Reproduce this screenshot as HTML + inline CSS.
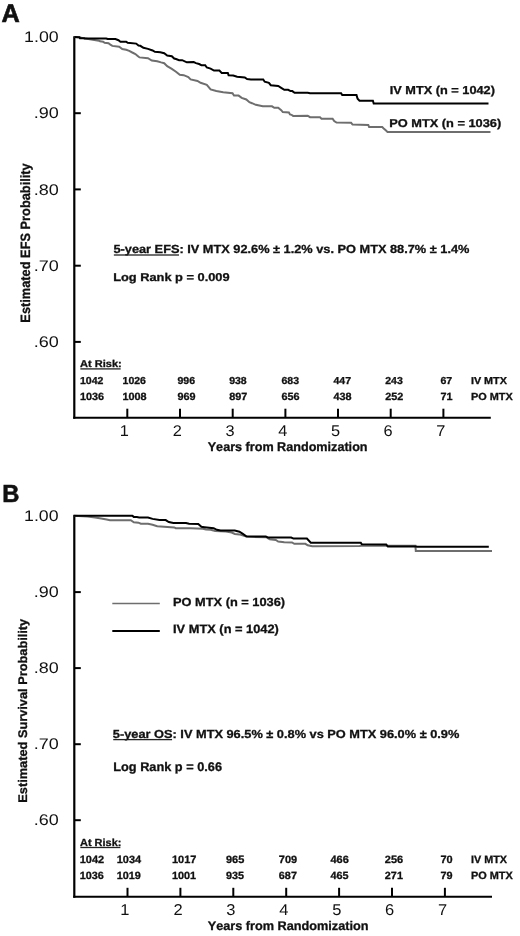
<!DOCTYPE html>
<html><head><meta charset="utf-8"><style>
html,body{margin:0;padding:0;background:#fff;}
svg{display:block;filter:grayscale(100%) blur(0.3px);}
text{font-family:"Liberation Sans",sans-serif;fill:#111;font-kerning:none;text-rendering:geometricPrecision;}
</style></head><body>
<svg width="520" height="936" viewBox="0 0 520 936">
<rect width="520" height="936" fill="#fff"/>
<line x1="74.3" y1="36.2" x2="74.3" y2="418.7" stroke="#000" stroke-width="2.2"/>
<line x1="73.2" y1="417.7" x2="490.8" y2="417.7" stroke="#000" stroke-width="2"/>
<line x1="75" y1="113.2" x2="80.8" y2="113.2" stroke="#000" stroke-width="2"/>
<line x1="75" y1="189.4" x2="80.8" y2="189.4" stroke="#000" stroke-width="2"/>
<line x1="75" y1="265.7" x2="80.8" y2="265.7" stroke="#000" stroke-width="2"/>
<line x1="75" y1="341.9" x2="80.8" y2="341.9" stroke="#000" stroke-width="2"/>
<line x1="127.3" y1="408.7" x2="127.3" y2="417.7" stroke="#000" stroke-width="2"/>
<line x1="180.0" y1="408.7" x2="180.0" y2="417.7" stroke="#000" stroke-width="2"/>
<line x1="232.7" y1="408.7" x2="232.7" y2="417.7" stroke="#000" stroke-width="2"/>
<line x1="285.4" y1="408.7" x2="285.4" y2="417.7" stroke="#000" stroke-width="2"/>
<line x1="338.0" y1="408.7" x2="338.0" y2="417.7" stroke="#000" stroke-width="2"/>
<line x1="390.7" y1="408.7" x2="390.7" y2="417.7" stroke="#000" stroke-width="2"/>
<line x1="443.4" y1="408.7" x2="443.4" y2="417.7" stroke="#000" stroke-width="2"/>
<line x1="74.3" y1="515.2" x2="74.3" y2="897.8" stroke="#000" stroke-width="2.2"/>
<line x1="73.2" y1="896.8" x2="492.0" y2="896.8" stroke="#000" stroke-width="2"/>
<line x1="75" y1="592.1" x2="80.8" y2="592.1" stroke="#000" stroke-width="2"/>
<line x1="75" y1="668.1" x2="80.8" y2="668.1" stroke="#000" stroke-width="2"/>
<line x1="75" y1="744.2" x2="80.8" y2="744.2" stroke="#000" stroke-width="2"/>
<line x1="75" y1="820.2" x2="80.8" y2="820.2" stroke="#000" stroke-width="2"/>
<line x1="127.5" y1="887.8" x2="127.5" y2="896.8" stroke="#000" stroke-width="2"/>
<line x1="180.4" y1="887.8" x2="180.4" y2="896.8" stroke="#000" stroke-width="2"/>
<line x1="233.3" y1="887.8" x2="233.3" y2="896.8" stroke="#000" stroke-width="2"/>
<line x1="286.2" y1="887.8" x2="286.2" y2="896.8" stroke="#000" stroke-width="2"/>
<line x1="339.1" y1="887.8" x2="339.1" y2="896.8" stroke="#000" stroke-width="2"/>
<line x1="392.0" y1="887.8" x2="392.0" y2="896.8" stroke="#000" stroke-width="2"/>
<line x1="444.9" y1="887.8" x2="444.9" y2="896.8" stroke="#000" stroke-width="2"/>
<path d="M74.3,37.0 L79.7,37.6 L88.3,39.0 L98.9,40.7 L100.0,41.3 L103.1,41.7 L104.6,42.8 L108.5,43.2 L110.0,44.4 L112.3,45.9 L119.2,46.7 L122.3,49.0 L126.2,49.8 L129.2,50.9 L132.3,52.5 L135.4,54.0 L137.7,55.9 L139.5,57.4 L148.0,58.2 L151.8,60.5 L157.2,61.2 L161.1,62.4 L164.2,63.2 L167.2,66.2 L171.8,68.9 L176.0,71.7 L179.8,74.8 L183.7,75.2 L188.3,77.1 L190.6,79.4 L197.5,80.9 L200.6,82.8 L206.8,84.8 L210.6,89.4 L216.3,91.0 L223.2,92.2 L232.5,93.3 L234.0,95.6 L238.6,95.6 L241.7,97.9 L246.3,99.5 L249.4,102.2 L252.0,103.2 L255.8,104.8 L262.8,106.3 L272.0,106.3 L274.3,107.8 L278.2,107.8 L281.2,110.2 L282.8,112.1 L288.9,112.5 L290.0,114.4 L291.5,114.8 L293.1,115.9 L307.7,115.7 L310.0,117.2 L320.0,117.2 L321.5,118.7 L332.6,118.7 L334.2,121.1 L336.5,122.6 L351.1,122.8 L352.6,124.6 L368.3,124.9 L369.1,127.0 L382.2,127.0 L383.7,128.5 L386.0,130.5 L387.5,131.9 L490.5,131.9" fill="none" stroke="#6e6e6e" stroke-width="2"/>
<path d="M74.3,37.0 L79.5,37.2 L80.0,38.2 L84.3,38.2 L84.6,38.5 L106.2,38.5 L107.7,39.0 L115.4,39.0 L118.5,40.2 L120.4,41.7 L126.2,41.7 L127.7,42.8 L136.2,43.6 L138.5,45.5 L140.3,45.8 L143.4,47.8 L148.0,48.9 L152.6,50.5 L154.9,51.8 L160.3,52.2 L164.2,53.2 L167.2,55.5 L171.8,56.2 L174.2,58.5 L176.0,59.0 L179.1,60.2 L182.2,60.2 L186.8,62.3 L193.7,62.1 L196.0,63.1 L199.1,64.0 L201.4,65.2 L205.2,65.2 L206.8,67.5 L210.6,68.6 L214.0,70.5 L219.4,70.6 L221.7,72.9 L227.8,72.9 L228.6,75.2 L233.2,75.6 L237.1,76.8 L244.8,77.5 L247.1,79.1 L250.9,79.5 L263.2,79.5 L264.7,81.7 L268.9,82.8 L270.8,85.2 L278.2,85.9 L281.2,87.8 L284.3,89.8 L288.2,89.8 L290.5,91.1 L292.3,91.1 L294.6,92.8 L307.7,92.8 L310.0,93.3 L341.1,93.3 L342.2,95.1 L356.5,95.1 L357.6,98.8 L359.5,100.7 L372.9,100.8 L373.7,103.5 L488.5,103.5" fill="none" stroke="#000" stroke-width="2"/>
<path d="M73.5,515.7 L87.4,516.5 L95.1,517.4 L101.2,518.4 L106.6,519.5 L110.0,520.2 L130.8,520.2 L133.8,522.3 L138.5,522.7 L140.8,523.7 L148.0,523.8 L152.6,524.7 L157.2,526.2 L174.2,527.4 L175.7,528.2 L190.6,528.3 L202.9,528.7 L206.0,529.5 L210.6,529.7 L215.2,531.0 L226.0,531.5 L231.7,532.5 L234.8,534.0 L239.4,534.4 L244.0,535.9 L247.1,536.7 L266.6,537.3 L269.7,539.2 L275.8,540.0 L278.2,541.5 L284.3,542.3 L292.0,542.5 L294.3,543.8 L305.4,543.8 L307.7,545.3 L312.3,546.2 L359.6,546.1 L361.0,545.8 L415.4,545.8 L415.8,551.1 L492.0,551.1" fill="none" stroke="#6e6e6e" stroke-width="2"/>
<path d="M73.5,515.7 L132.3,515.7 L133.8,516.9 L136.9,517.1 L139.2,517.5 L148.0,517.5 L152.6,518.9 L159.5,520.1 L165.7,520.1 L168.8,522.0 L173.4,522.9 L186.0,523.1 L189.1,523.7 L198.3,524.1 L201.4,526.8 L204.5,527.2 L213.7,528.2 L216.8,529.8 L220.6,530.5 L234.8,530.6 L239.4,531.7 L242.5,533.6 L246.3,536.3 L265.8,536.6 L268.2,537.6 L291.2,537.6 L293.5,538.6 L306.9,538.6 L310.8,542.7 L360.8,542.8 L361.9,544.3 L386.2,544.5 L387.9,546.6 L415.8,546.5 L417.3,546.8 L488.8,546.8" fill="none" stroke="#000" stroke-width="2"/>
<line x1="112.3" y1="603.5" x2="159.8" y2="603.5" stroke="#6e6e6e" stroke-width="1.6"/>
<line x1="112.3" y1="631" x2="159.8" y2="631" stroke="#000" stroke-width="2"/>
<text transform="translate(1.44,21.60) scale(1.0005,1)" font-size="25.29" font-weight="700" stroke="#111" stroke-width="0.6">A</text>
<text transform="translate(24.08,42.20) scale(1.1511,1)" font-size="15.43" font-weight="400">1.00</text>
<text transform="translate(33.68,118.40) scale(1.1677,1)" font-size="15.43" font-weight="400">.90</text>
<text transform="translate(33.68,194.60) scale(1.1677,1)" font-size="15.43" font-weight="400">.80</text>
<text transform="translate(33.68,270.90) scale(1.1677,1)" font-size="15.43" font-weight="400">.70</text>
<text transform="translate(33.68,347.10) scale(1.1677,1)" font-size="15.43" font-weight="400">.60</text>
<text transform="translate(119.87,436.40) scale(1.0500,1)" font-size="15.57" font-weight="400">1</text>
<text transform="translate(172.80,436.40) scale(1.0500,1)" font-size="15.57" font-weight="400">2</text>
<text transform="translate(225.57,436.40) scale(1.0500,1)" font-size="15.57" font-weight="400">3</text>
<text transform="translate(278.26,436.40) scale(1.0500,1)" font-size="15.57" font-weight="400">4</text>
<text transform="translate(330.95,436.40) scale(1.0500,1)" font-size="15.57" font-weight="400">5</text>
<text transform="translate(383.56,436.40) scale(1.0500,1)" font-size="15.57" font-weight="400">6</text>
<text transform="translate(436.25,436.40) scale(1.0500,1)" font-size="15.57" font-weight="400">7</text>
<text transform="translate(207.70,451.45) scale(0.9981,1)" font-size="12.65" font-weight="700" stroke="#111" stroke-width="0.3">Years from Randomization</text>
<text transform="translate(80.02,366.75) scale(1.1171,1)" font-size="9.88" font-weight="700" stroke="#111" stroke-width="0.3">At Risk:</text>
<rect x="80.35" y="368.25" width="40.30" height="1.3" fill="#222"/>
<text transform="translate(79.92,383.95) scale(1.0400,1)" font-size="10.14" font-weight="700" stroke="#111" stroke-width="0.3">1042</text>
<text transform="translate(122.52,383.95) scale(1.0400,1)" font-size="10.14" font-weight="700" stroke="#111" stroke-width="0.3">1026</text>
<text transform="translate(177.43,383.95) scale(1.0400,1)" font-size="10.14" font-weight="700" stroke="#111" stroke-width="0.3">996</text>
<text transform="translate(229.13,383.95) scale(1.0400,1)" font-size="10.14" font-weight="700" stroke="#111" stroke-width="0.3">938</text>
<text transform="translate(281.43,383.95) scale(1.0400,1)" font-size="10.14" font-weight="700" stroke="#111" stroke-width="0.3">683</text>
<text transform="translate(333.44,383.95) scale(1.0400,1)" font-size="10.14" font-weight="700" stroke="#111" stroke-width="0.3">447</text>
<text transform="translate(385.23,383.95) scale(1.0400,1)" font-size="10.14" font-weight="700" stroke="#111" stroke-width="0.3">243</text>
<text transform="translate(440.43,383.95) scale(1.0400,1)" font-size="10.14" font-weight="700" stroke="#111" stroke-width="0.3">67</text>
<text transform="translate(79.90,400.05) scale(1.0400,1)" font-size="10.43" font-weight="700" stroke="#111" stroke-width="0.3">1036</text>
<text transform="translate(122.50,400.05) scale(1.0400,1)" font-size="10.43" font-weight="700" stroke="#111" stroke-width="0.3">1008</text>
<text transform="translate(177.42,400.05) scale(1.0400,1)" font-size="10.43" font-weight="700" stroke="#111" stroke-width="0.3">969</text>
<text transform="translate(229.22,400.05) scale(1.0400,1)" font-size="10.43" font-weight="700" stroke="#111" stroke-width="0.3">897</text>
<text transform="translate(281.42,400.05) scale(1.0400,1)" font-size="10.43" font-weight="700" stroke="#111" stroke-width="0.3">656</text>
<text transform="translate(333.43,400.05) scale(1.0400,1)" font-size="10.43" font-weight="700" stroke="#111" stroke-width="0.3">438</text>
<text transform="translate(385.22,400.05) scale(1.0400,1)" font-size="10.43" font-weight="700" stroke="#111" stroke-width="0.3">252</text>
<text transform="translate(440.42,400.05) scale(1.0400,1)" font-size="10.43" font-weight="700" stroke="#111" stroke-width="0.3">71</text>
<text transform="translate(470.89,383.85) scale(1.0799,1)" font-size="10.03" font-weight="700" stroke="#111" stroke-width="0.3">IV MTX</text>
<text transform="translate(470.89,399.85) scale(1.0569,1)" font-size="10.32" font-weight="700" stroke="#111" stroke-width="0.3">PO MTX</text>
<text transform="translate(389.76,94.25) scale(1.1108,1)" font-size="11.48" font-weight="700" stroke="#111" stroke-width="0.3">IV MTX (n = 1042)</text>
<text transform="translate(389.15,127.35) scale(1.1304,1)" font-size="11.34" font-weight="700" stroke="#111" stroke-width="0.3">PO MTX (n = 1036)</text>
<text transform="translate(113.47,253.25) scale(1.0847,1)" font-size="11.77" font-weight="700" stroke="#111" stroke-width="0.3">5-year EFS: IV MTX 92.6% ± 1.2% vs. PO MTX 88.7% ± 1.4%</text>
<rect x="113.85" y="254.35" width="65.13" height="1.3" fill="#222"/>
<text transform="translate(113.15,280.75) scale(1.1315,1)" font-size="11.34" font-weight="700" stroke="#111" stroke-width="0.3">Log Rank p = 0.009</text>
<text transform="translate(30.25,322.65) rotate(-90) scale(0.9473,1)" font-size="13.52" font-weight="700" stroke="#111" stroke-width="0.3">Estimated EFS Probability</text>
<text transform="translate(2.34,501.60) scale(0.9677,1)" font-size="24.56" font-weight="700" stroke="#111" stroke-width="0.6">B</text>
<text transform="translate(24.08,521.20) scale(1.1475,1)" font-size="15.43" font-weight="400">1.00</text>
<text transform="translate(33.69,597.30) scale(1.1626,1)" font-size="15.43" font-weight="400">.90</text>
<text transform="translate(33.69,673.30) scale(1.1626,1)" font-size="15.43" font-weight="400">.80</text>
<text transform="translate(33.69,749.40) scale(1.1626,1)" font-size="15.43" font-weight="400">.70</text>
<text transform="translate(33.69,825.40) scale(1.1626,1)" font-size="15.43" font-weight="400">.60</text>
<text transform="translate(120.23,915.30) scale(1.0500,1)" font-size="15.71" font-weight="400">1</text>
<text transform="translate(173.38,915.30) scale(1.0500,1)" font-size="15.71" font-weight="400">2</text>
<text transform="translate(226.36,915.30) scale(1.0500,1)" font-size="15.71" font-weight="400">3</text>
<text transform="translate(279.26,915.30) scale(1.0500,1)" font-size="15.71" font-weight="400">4</text>
<text transform="translate(332.16,915.30) scale(1.0500,1)" font-size="15.71" font-weight="400">5</text>
<text transform="translate(384.98,915.30) scale(1.0500,1)" font-size="15.71" font-weight="400">6</text>
<text transform="translate(437.88,915.30) scale(1.0500,1)" font-size="15.71" font-weight="400">7</text>
<text transform="translate(207.70,930.05) scale(1.0154,1)" font-size="12.50" font-weight="700" stroke="#111" stroke-width="0.3">Years from Randomization</text>
<text transform="translate(80.02,845.65) scale(1.0619,1)" font-size="10.32" font-weight="700" stroke="#111" stroke-width="0.3">At Risk:</text>
<rect x="80.35" y="846.85" width="40.00" height="1.3" fill="#222"/>
<text transform="translate(79.69,862.65) scale(1.0400,1)" font-size="10.57" font-weight="700" stroke="#111" stroke-width="0.3">1042</text>
<text transform="translate(116.69,862.65) scale(1.0400,1)" font-size="10.57" font-weight="700" stroke="#111" stroke-width="0.3">1034</text>
<text transform="translate(171.99,862.65) scale(1.0400,1)" font-size="10.57" font-weight="700" stroke="#111" stroke-width="0.3">1017</text>
<text transform="translate(226.01,862.65) scale(1.0400,1)" font-size="10.57" font-weight="700" stroke="#111" stroke-width="0.3">965</text>
<text transform="translate(278.81,862.65) scale(1.0400,1)" font-size="10.57" font-weight="700" stroke="#111" stroke-width="0.3">709</text>
<text transform="translate(330.43,862.65) scale(1.0400,1)" font-size="10.57" font-weight="700" stroke="#111" stroke-width="0.3">466</text>
<text transform="translate(384.82,862.65) scale(1.0400,1)" font-size="10.57" font-weight="700" stroke="#111" stroke-width="0.3">256</text>
<text transform="translate(440.41,862.65) scale(1.0400,1)" font-size="10.57" font-weight="700" stroke="#111" stroke-width="0.3">70</text>
<text transform="translate(79.70,878.85) scale(1.0400,1)" font-size="10.43" font-weight="700" stroke="#111" stroke-width="0.3">1036</text>
<text transform="translate(116.70,878.85) scale(1.0400,1)" font-size="10.43" font-weight="700" stroke="#111" stroke-width="0.3">1019</text>
<text transform="translate(172.00,878.85) scale(1.0400,1)" font-size="10.43" font-weight="700" stroke="#111" stroke-width="0.3">1001</text>
<text transform="translate(226.02,878.85) scale(1.0400,1)" font-size="10.43" font-weight="700" stroke="#111" stroke-width="0.3">935</text>
<text transform="translate(278.82,878.85) scale(1.0400,1)" font-size="10.43" font-weight="700" stroke="#111" stroke-width="0.3">687</text>
<text transform="translate(330.43,878.85) scale(1.0400,1)" font-size="10.43" font-weight="700" stroke="#111" stroke-width="0.3">465</text>
<text transform="translate(384.82,878.85) scale(1.0400,1)" font-size="10.43" font-weight="700" stroke="#111" stroke-width="0.3">271</text>
<text transform="translate(440.42,878.85) scale(1.0400,1)" font-size="10.43" font-weight="700" stroke="#111" stroke-width="0.3">79</text>
<text transform="translate(470.89,862.65) scale(1.0208,1)" font-size="10.61" font-weight="700" stroke="#111" stroke-width="0.3">IV MTX</text>
<text transform="translate(470.88,878.85) scale(1.0304,1)" font-size="10.61" font-weight="700" stroke="#111" stroke-width="0.3">PO MTX</text>
<text transform="translate(173.05,605.65) scale(1.0876,1)" font-size="11.77" font-weight="700" stroke="#111" stroke-width="0.3">PO MTX (n = 1036)</text>
<text transform="translate(173.05,633.15) scale(1.0644,1)" font-size="12.06" font-weight="700" stroke="#111" stroke-width="0.3">IV MTX (n = 1042)</text>
<text transform="translate(112.87,737.85) scale(1.0994,1)" font-size="11.63" font-weight="700" stroke="#111" stroke-width="0.3">5-year OS: IV MTX 96.5% ± 0.8% vs PO MTX 96.0% ± 0.9%</text>
<rect x="113.25" y="738.95" width="58.81" height="1.3" fill="#222"/>
<text transform="translate(113.26,770.85) scale(1.0195,1)" font-size="12.50" font-weight="700" stroke="#111" stroke-width="0.3">Log Rank p = 0.66</text>
<text transform="translate(27.15,802.74) rotate(-90) scale(1.0225,1)" font-size="12.50" font-weight="700" stroke="#111" stroke-width="0.3">Estimated Survival Probability</text>
</svg>
</body></html>
